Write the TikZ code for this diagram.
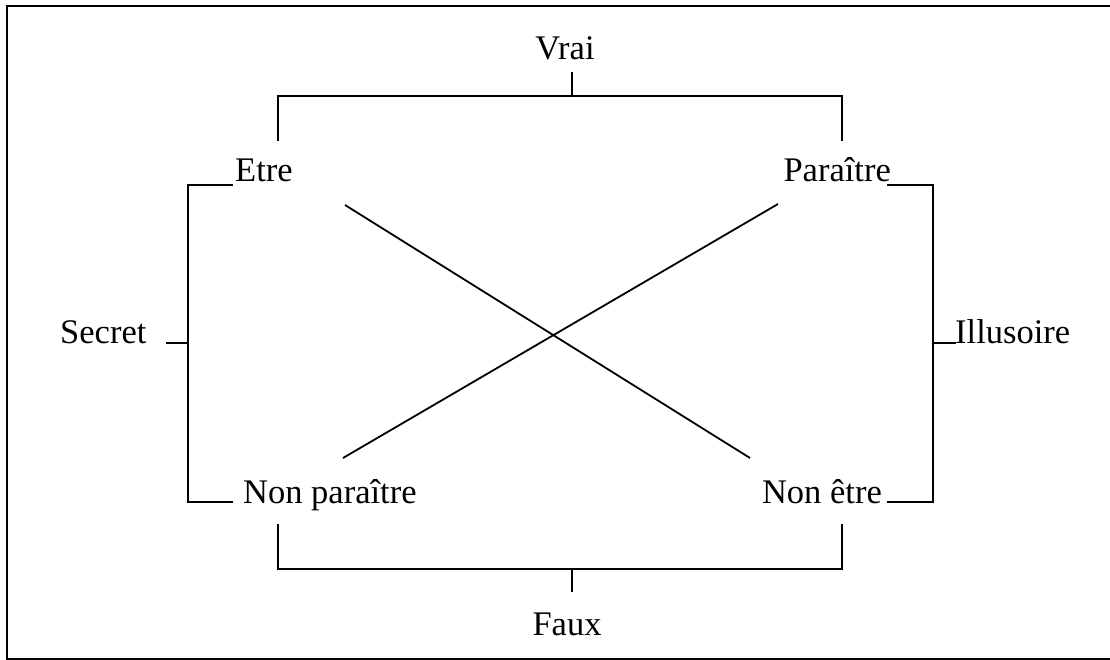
\documentclass[tikz,border=0pt]{standalone}
\usepackage{fontspec}
\setmainfont{Liberation Serif}
\usetikzlibrary{calc}

\begin{document}
\begin{tikzpicture}[x=1pt,y=-1pt,
    every node/.style={inner sep=0pt,font=\fontsize{34.5}{40}\selectfont},
    bracket/.style={line width=1.8pt,line join=miter}]
    \def\w{1110}
    \def\h{660}
    \useasboundingbox (0,0) rectangle (\w,\h);
    \clip (0,0) rectangle (\w,\h);
    % Draw the frame
    \draw[line width=1.8pt] (\w+5,6) -| (7,659) -- (\w+5,659);
    % Terms of the square
    \node[anchor=base west] (etre) at (235,182) {Etre};
    \node[anchor=base east] (parait) at (891,182) {Paraître};
    \node[anchor=base west] (nonpar) at (243,503) {Non paraître};
    \node[anchor=base east] (nonetre) at (882,503) {Non être};
    % Meta terms
    \node[anchor=base] (vrai) at (565,60) {Vrai};
    \node[anchor=base] (faux) at (567,635) {Faux};
    \node[anchor=base west] (secret) at (60,343) {Secret};
    \node[anchor=base west] (illus) at (955,343) {Illusoire};
    % brackets left and right
    \draw[bracket] ($(etre.base west)+(-2,3)$) -- ++(-45,0) |- ($(nonpar.base west)+(-10,-1)$);
    \draw[bracket] ($(parait.base east)+(-4,3)$) -- ++(46,0) |- ($(nonetre.base east)+(5,-1)$);
    \draw[bracket] ($(secret.base east)+(19,0)$) -- ++(23,0);
    \draw[bracket] ($(illus.base west)+(-23,0)$) -- ++(24,0);
    % brackets top and bottom
    \draw[bracket] ($(etre.base west)+(43,-41)$) |- ($(vrai.base)+(0,36)$) -| ($(parait.base east)+(-49,-41)$);
    \draw[bracket] ($(vrai.base)+(7,12)$) -- ++(0,24);
    \draw[bracket] ($(nonpar.base west)+(35,21)$) |- ($(faux.base)+(0,-66)$) -| ($(nonetre.base east)+(-40,21)$);
    \draw[bracket] ($(faux.base)+(5,-66)$) -- ++(0,23);
    % diagonals
    \draw[bracket] ($(etre.base west)+(110,23)$) -- ($(nonetre.base east)+(-132,-45)$);
    \draw[bracket] ($(parait.base east)+(-113,22)$) -- ($(nonpar.base west)+(100,-45)$);
\end{tikzpicture}
\end{document}
